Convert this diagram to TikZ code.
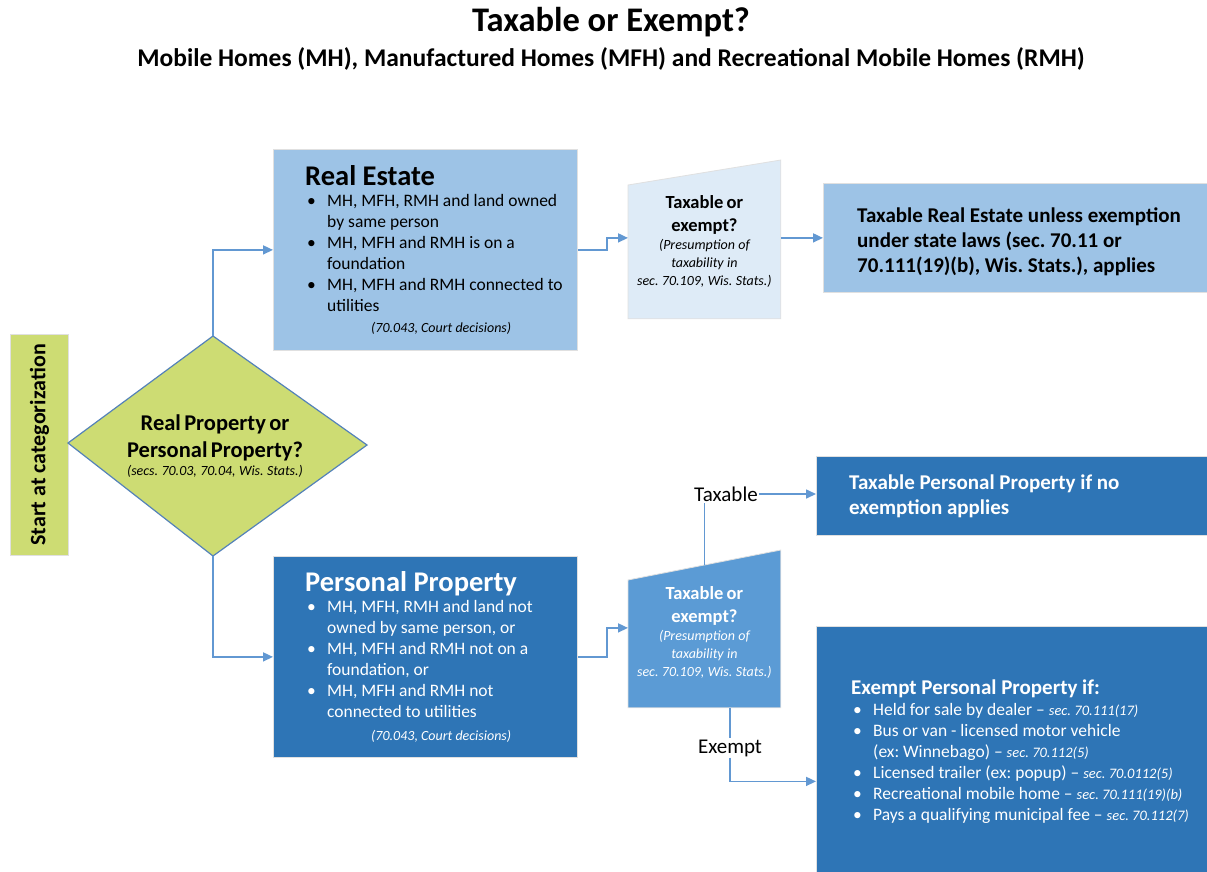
\documentclass[tikz,border=0pt]{standalone}
\usepackage{fontspec}
\setmainfont{Carlito}
\usetikzlibrary{arrows.meta,calc}

\definecolor{startgreen}{RGB}{205,220,115}
\definecolor{lightblue}{RGB}{157,195,230}
\definecolor{paleblue}{RGB}{222,235,247}
\definecolor{midblue}{RGB}{91,155,213}
\definecolor{darkblue}{RGB}{46,117,182}
\definecolor{linkblue}{RGB}{98,152,210}
\definecolor{diaedge}{RGB}{84,130,185}

\newcommand{\bul}[1]{\par\noindent\hangindent=22pt\hangafter=1\makebox[22pt][l]{\hspace{2pt}\textbullet}#1}
\newcommand{\statref}[1]{{\itshape\fontsize{14.5}{21}\selectfont #1}}
\frenchspacing

\begin{document}
\begin{tikzpicture}[x=1pt, y=-1pt,
    box/.style={draw=black!12, line width=0.8pt, anchor=north west, inner sep=0pt},
    natspace/.style={execute at begin node={\spaceskip=0pt\xspaceskip=0pt}},
    boxtext/.style={anchor=west, align=left, inner sep=0pt, text width=#1, natspace},
    ctext/.style={inner sep=0pt, text width=#1, execute at begin node=\centering},
    qtext/.style={ctext=150pt},
    link/.style={draw=linkblue, line width=1.6pt},
    flow/.style={link, -{Triangle[length=10pt, width=9pt]}},
    lbl/.style={font=\fontsize{21}{25}\selectfont, inner sep=1pt}
]
\useasboundingbox (0,0) rectangle (1207,871);
\fill[white] (0,0) rectangle (1207,871);

% Title
\node[font=\fontsize{34.5}{40}\selectfont\bfseries] (title) at (611,22) {Taxable or Exempt?};
\node[font=\fontsize{25.5}{30}\selectfont\bfseries] (subtitle) at (611,59) {Mobile Homes (MH), Manufactured Homes (MFH) and Recreational Mobile Homes (RMH)};

% Start and decision
\node[box, fill=startgreen, minimum width=58, minimum height=221] (start) at (10,334) {};
\node[rotate=90, font=\fontsize{22}{26}\selectfont\bfseries] (startt) at (start.center) {Start at categorization};

\coordinate (dtop) at (213,336);
\coordinate (dright) at (367,445);
\coordinate (dbot) at (213,556);
\coordinate (dleft) at (68,443);
\filldraw[fill=startgreen, draw=diaedge, line width=1.2pt] (dtop) -- (dright) -- (dbot) -- (dleft) -- cycle;
\node[ctext=250pt] (diat) at (215,446) {%
    {\fontsize{22.5}{27}\selectfont\bfseries Real Property or\\Personal Property?\par}
    {\itshape\fontsize{14}{18}\selectfont (secs. 70.03, 70.04, Wis. Stats.)\par}};

% Real estate branch
\node[box, fill=lightblue, minimum width=304, minimum height=201] (re) at (273,149) {};
\node[boxtext=272pt] (ret) at ([xshift=32]re.west) {%
    {\fontsize{28.5}{32}\selectfont\bfseries Real Estate\par}
    \fontsize{17.5}{21}\selectfont
    \bul{MH, MFH, RMH and land owned\newline by same person}
    \bul{MH, MFH and RMH is on a\newline foundation}
    \bul{MH, MFH and RMH connected to\newline utilities}
    \par{\centering\itshape\fontsize{14}{21}\selectfont (70.043, Court decisions)\par}};

\node[box, draw=none, minimum width=152, minimum height=133] (q1) at (628,185) {};
\filldraw[fill=paleblue, draw=black!12, line width=0.8pt] (q1.south west) -- (q1.north west) -- ([yshift=25pt]q1.north east) -- (q1.south east) -- cycle;
\node[qtext] (q1t) at ([yshift=10pt]q1.center) {%
    {\fontsize{18.5}{23}\selectfont\bfseries Taxable or\\exempt?\par}
    {\itshape\fontsize{14}{18}\selectfont (Presumption of\\taxability in\\sec. 70.109, Wis. Stats.)\par}};

\node[box, fill=lightblue, minimum width=390, minimum height=109] (tre) at (823,183) {};
\node[boxtext=360pt, font=\fontsize{21}{25}\selectfont\bfseries] (tret) at ([xshift=34, yshift=-4]tre.west) {%
    Taxable Real Estate unless exemption\par
    under state laws (sec. 70.11 or\par
    70.111(19)(b), Wis. Stats.), applies\par};

% Personal property branch
\node[box, fill=darkblue, minimum width=304, minimum height=201] (pp) at (273,556) {};
\node[boxtext=272pt, text=white] (ppt) at ([xshift=32]pp.west) {%
    {\fontsize{28.5}{32}\selectfont\bfseries Personal Property\par}
    \fontsize{17.5}{21}\selectfont
    \bul{MH, MFH, RMH and land not\newline owned by same person, or}
    \bul{MH, MFH and RMH not on a\newline foundation, or}
    \bul{MH, MFH and RMH not\newline connected to utilities}
    \par{\centering\itshape\fontsize{14}{23}\selectfont (70.043, Court decisions)\par}};

\node[box, draw=none, minimum width=152, minimum height=127] (q2) at (628,580) {};
\filldraw[fill=midblue, draw=black!12, line width=0.8pt] (q2.south west) -- (q2.north west) -- ([yshift=30pt]q2.north east) -- (q2.south east) -- cycle;
\node[qtext, text=white] (q2t) at ([yshift=11pt]q2.center) {%
    {\fontsize{18.5}{23}\selectfont\bfseries Taxable or\\exempt?\par}
    {\itshape\fontsize{14}{18}\selectfont (Presumption of\\taxability in\\sec. 70.109, Wis. Stats.)\par}};

\node[box, fill=darkblue, minimum width=397, minimum height=79] (tpp) at (816,456) {};
\node[boxtext=360pt, text=white, font=\fontsize{21}{25}\selectfont\bfseries] (tppt) at ([xshift=33]tpp.west) {%
    Taxable Personal Property if no\par
    exemption applies\par};

\node[box, fill=darkblue, minimum width=397, minimum height=250] (ep) at (816,626) {};
\node[boxtext=360pt, text=white] (ept) at ([xshift=35]ep.west) {%
    {\fontsize{21}{23}\selectfont\bfseries Exempt Personal Property if:\par}
    \fontsize{17.5}{21}\selectfont
    \bul{Held for sale by dealer -- \statref{sec. 70.111(17)}}
    \bul{Bus or van - licensed motor vehicle\newline (ex: Winnebago) -- \statref{sec. 70.112(5)}}
    \bul{Licensed trailer (ex: popup) -- \statref{sec. 70.0112(5)}}
    \bul{Recreational mobile home -- \statref{sec. 70.111(19)(b)}}
    \bul{Pays a qualifying municipal fee -- \statref{sec. 70.112(7)}}\par};

\node[lbl] (tlab) at (726,494) {Taxable};
\node[lbl] (elab) at (730,748) {Exempt};

% Connectors
\draw[flow] (dtop) |- (re.west);
\draw[flow] (dbot) |- (pp.west);
\draw[flow] (re.east) -- ++(29,0) |- (q1.west |- tre.west);
\draw[flow] (q1.east |- tre.west) -- (tre.west);
\draw[flow] (pp.east) -- ++(29,0) |- ([yshift=16pt]q2.west);
\coordinate (q2top) at ($(q2.north west)!0.5!([yshift=30pt]q2.north east)$);
\draw[link] (q2top) -- (q2top |- tlab.south);
\draw[flow] (tlab.east) -- (tlab.east -| tpp.west);
\draw[link] (elab.north |- q2.south) -- (elab.north);
\draw[flow] (elab.south) |- ([yshift=-30pt]ep.west);

\end{tikzpicture}
\end{document}
